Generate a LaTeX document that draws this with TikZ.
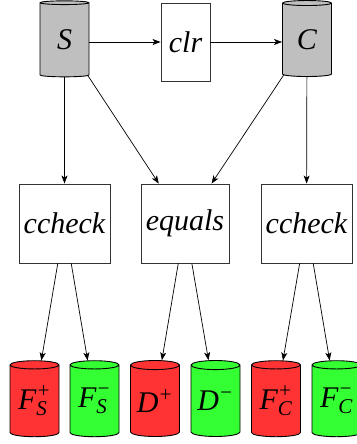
\documentclass[tikz,border=0pt]{standalone}
\usepackage{fontspec}
\usepackage{amsmath}
\setmainfont{Liberation Serif}
\usetikzlibrary{shapes.geometric,arrows.meta}
\definecolor{dbgray}{RGB}{191,191,191}
\definecolor{dbred}{RGB}{255,51,51}
\definecolor{dbgreen}{RGB}{51,255,51}
\tikzset{
  db/.style={cylinder, shape border rotate=90, aspect=0.25, draw=black, line width=0.9pt,
    minimum width=49pt, minimum height=76pt, inner sep=0pt,
    font=\fontsize{30}{36}\selectfont\itshape},
  proc/.style={rectangle, draw=black!80, line width=0.9pt, inner sep=0pt,
    font=\fontsize{30}{36}\selectfont\itshape},
  arr/.style={-{Stealth[length=8pt,width=6pt,inset=2pt]}, line width=0.7pt}
}
\newcommand{\sm}[1]{\textit{#1}}
\begin{document}
\begin{tikzpicture}[x=1pt,y=-1pt]
\useasboundingbox (0,0) rectangle (356,444);
\node[db, fill=dbgray] (S) at (64.5,40) {S};
\node[proc, minimum width=49pt, minimum height=78pt] (clr) at (185.5,42) {clr};
\node[db, fill=dbgray] (C) at (307,40) {C};
\node[proc, minimum width=91pt, minimum height=79pt] (cc1) at (64.5,223.5) {ccheck};
\node[proc, minimum width=88pt, minimum height=79pt] (eq) at (185,223.5) {equals};
\node[proc, minimum width=91pt, minimum height=79pt] (cc2) at (306.5,223.5) {ccheck};
\node[db, fill=dbred] (FSp) at (34.5,401) {$\sm{F}^{\sm{+}}_{\sm{S}}$};
\node[db, fill=dbgreen] (FSm) at (94.5,401) {$\sm{F}^{\sm{−}}_{\sm{S}}$};
\node[db, fill=dbred] (Dp) at (155,401) {$\sm{D}^{\sm{+}}$};
\node[db, fill=dbgreen] (Dm) at (215.5,401) {$\sm{D}^{\sm{−}}$};
\node[db, fill=dbred] (FCp) at (276,401) {$\sm{F}^{\sm{+}}_{\sm{C}}$};
\node[db, fill=dbgreen] (FCm) at (336.5,401) {$\sm{F}^{\sm{−}}_{\sm{C}}$};
\draw[arr] (S.east |- clr) -- (clr);
\draw[arr] (clr) -- (C.west |- clr);
\draw[arr] (S) -- (cc1);
\draw[arr] (S) -- (eq);
\draw[arr] (C) -- (eq);
\draw[arr] (C) -- (cc2);
\draw[arr] (cc1) -- (FSp);
\draw[arr] (cc1) -- (FSm);
\draw[arr] (eq) -- (Dp);
\draw[arr] (eq) -- (Dm);
\draw[arr] (cc2) -- (FCp);
\draw[arr] (cc2) -- (FCm);
\end{tikzpicture}
\end{document}
